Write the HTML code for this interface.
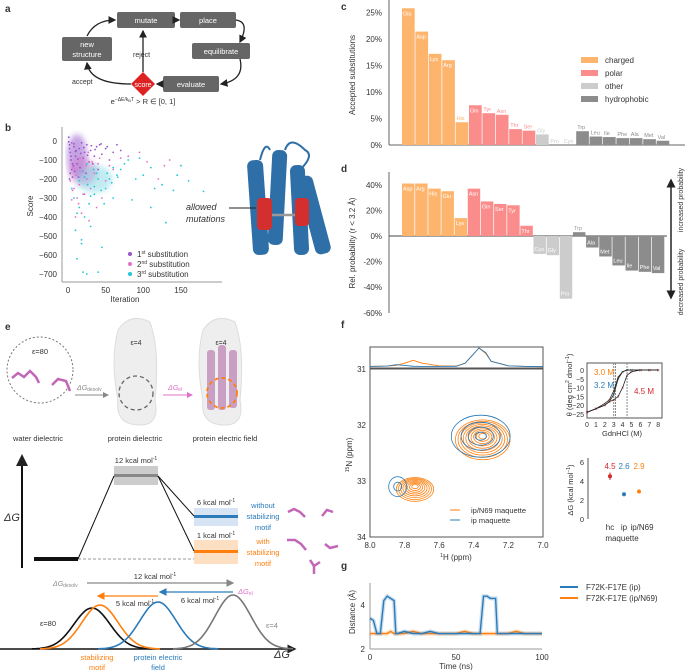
<!DOCTYPE html>
<html><head><meta charset="utf-8"><style>
body{margin:0;background:#fff}
svg{font-family:"Liberation Sans",sans-serif;display:block}
text{fill:#333}
</style></head><body>
<svg id="s" width="685" height="670" viewBox="0 0 685 670">
<defs>
<marker id="ah" markerWidth="6" markerHeight="6" refX="5" refY="3" orient="auto"><path d="M0,0L6,3L0,6z" fill="#222"/></marker>
<marker id="ahg" markerWidth="6" markerHeight="6" refX="5" refY="3" orient="auto"><path d="M0,0L6,3L0,6z" fill="#888"/></marker>
<marker id="ahm" markerWidth="6" markerHeight="6" refX="5" refY="3" orient="auto"><path d="M0,0L6,3L0,6z" fill="#e070c8"/></marker>
<marker id="ahb" markerWidth="6" markerHeight="6" refX="5" refY="3" orient="auto"><path d="M0,0L6,3L0,6z" fill="#2b7bba"/></marker>
<marker id="aho" markerWidth="6" markerHeight="6" refX="5" refY="3" orient="auto"><path d="M0,0L6,3L0,6z" fill="#ff7f0e"/></marker>
<filter id="bl"><feGaussianBlur stdDeviation="3"/></filter>
</defs>
<g font-weight="bold" font-size="10">
<text x="5" y="12">a</text><text x="5" y="131">b</text><text x="341" y="10">c</text><text x="341" y="172">d</text><text x="5" y="330">e</text><text x="341" y="328">f</text><text x="341" y="569">g</text></g>

<g id="pa" font-size="7.5">
<rect x="117" y="12" width="58" height="16" rx="2" fill="#666"/><text x="146" y="23" text-anchor="middle" style="fill:#fff">mutate</text>
<rect x="180" y="12" width="56" height="16" rx="2" fill="#666"/><text x="208" y="23" text-anchor="middle" style="fill:#fff">place</text>
<rect x="192" y="43" width="58" height="16" rx="2" fill="#666"/><text x="221" y="54" text-anchor="middle" style="fill:#fff">equilibrate</text>
<rect x="163" y="76" width="56" height="16" rx="2" fill="#666"/><text x="191" y="87" text-anchor="middle" style="fill:#fff">evaluate</text>
<rect x="62" y="37" width="50" height="24" rx="2" fill="#666"/><text x="87" y="47" text-anchor="middle" style="fill:#fff">new</text><text x="87" y="57" text-anchor="middle" style="fill:#fff">structure</text>
<path d="M143,72L155,84L143,96L131,84z" fill="#d22"/><text x="143" y="87" text-anchor="middle" font-size="7" style="fill:#fff">score</text>
<g fill="none" stroke="#222" stroke-width="1.3" marker-end="url(#ah)">
<path d="M175,20L179,20"/><path d="M236,20Q250,22 240,42"/><path d="M240,59Q245,80 221,84"/><path d="M163,84L157,84"/><path d="M143,72L143,31"/><path d="M131,84Q90,84 87,63"/><path d="M87,36Q95,20 115,20"/></g>
<text x="133" y="57" font-size="7">reject</text><text x="72" y="84" font-size="7">accept</text>
<text x="143" y="104" font-size="7.5" text-anchor="middle">e<tspan font-size="5" dy="-3">−ΔE/k</tspan><tspan font-size="4" dy="1">B</tspan><tspan font-size="5" dy="-1">T</tspan><tspan dy="3"> &gt; R ∈ [0, 1]</tspan></text>
</g>

<g id="pb"></g>
<g>
<g fill="#2e6fa8"><rect x="250" y="160" width="16" height="95" rx="6" transform="rotate(-4 258 207)"/><rect x="270" y="150" width="15" height="95" rx="6" transform="rotate(3 277 197)"/><rect x="292" y="165" width="15" height="90" rx="6" transform="rotate(-3 299 210)"/><rect x="306" y="175" width="16" height="80" rx="6" transform="rotate(-15 314 215)"/></g>
<g fill="#d42f2f"><rect x="257" y="198" width="15" height="32" rx="4"/><rect x="295" y="198" width="14" height="28" rx="4"/></g>
<path d="M260,160Q265,140 270,150M285,150Q290,135 305,150Q315,155 300,170" fill="none" stroke="#2e6fa8" stroke-width="2"/>
<line x1="272" y1="215" x2="295" y2="215" stroke="#999" stroke-width="2.5"/>
<text x="186" y="210" font-size="9" font-style="italic">allowed</text><text x="186" y="222" font-size="9" font-style="italic">mutations</text>
<line x1="229" y1="208" x2="256" y2="208" stroke="#222"/>
</g>

<g id="pc"></g>
<g id="pd"></g>

<g id="pe" font-size="7.5">
<circle cx="40" cy="370" r="33" fill="none" stroke="#777" stroke-dasharray="2,2"/>
<text x="40" y="354" text-anchor="middle">ε=80</text>
<path d="M12,378l6,-5l6,4l6,-6l6,6l3,6" fill="none" stroke="#c266b8" stroke-width="2.5"/>
<path d="M52,385l6,-6l8,2l4,10" fill="none" stroke="#c266b8" stroke-width="2.5"/>
<line x1="75" y1="395" x2="108" y2="395" stroke="#888" marker-end="url(#ahg)"/>
<text x="77" y="390" style="fill:#888" font-size="7"><tspan font-style="italic">ΔG</tspan><tspan font-size="5" dy="1">desolv</tspan></text>
<path d="M118,330Q130,312 150,322Q160,350 155,400Q160,425 140,425Q115,425 118,400Q110,360 118,330z" fill="#eee" stroke="#ddd"/>
<circle cx="136" cy="393" r="17" fill="none" stroke="#666" stroke-dasharray="4,3" stroke-width="1.3"/>
<text x="136" y="345" text-anchor="middle" font-size="7">ε=4</text>
<line x1="163" y1="395" x2="192" y2="395" stroke="#e070c8" marker-end="url(#ahm)"/>
<text x="168" y="390" style="fill:#e070c8" font-size="7"><tspan font-style="italic">ΔG</tspan><tspan font-size="5" dy="1">el</tspan></text>
<path d="M203,330Q215,312 235,322Q245,350 240,400Q245,425 225,425Q200,425 203,400Q195,360 203,330z" fill="#eee" stroke="#ddd"/>
<g fill="#c9a0c4"><rect x="207" y="350" width="8" height="60" rx="3"/><rect x="218" y="345" width="8" height="65" rx="3"/><rect x="229" y="350" width="8" height="58" rx="3"/></g>
<circle cx="222" cy="393" r="15" fill="none" stroke="#ff7f0e" stroke-dasharray="4,3" stroke-width="1.8"/>
<text x="221" y="345" text-anchor="middle" font-size="7">ε=4</text>
<text x="38" y="441" text-anchor="middle">water dielectric</text><text x="135" y="441" text-anchor="middle">protein dielectric</text><text x="225" y="441" text-anchor="middle">protein electric field</text>
<line x1="22" y1="568" x2="22" y2="456" stroke="#111" stroke-width="2" marker-end="url(#ah)"/>
<text x="4" y="521" font-size="11" font-style="italic">ΔG</text>
<rect x="34" y="557" width="44" height="4" fill="#111"/>
<line x1="78" y1="559" x2="238" y2="559" stroke="#999" stroke-dasharray="3,2"/>
<rect x="114" y="466" width="44" height="19" fill="#ccc"/><rect x="114" y="474" width="44" height="3" fill="#888"/>
<text x="136" y="463" text-anchor="middle">12 kcal mol<tspan font-size="5" dy="-3">-1</tspan></text>
<rect x="194" y="508" width="44" height="18" fill="#d6e4f3"/><rect x="194" y="515" width="44" height="3" fill="#2b7bba"/>
<text x="216" y="505" text-anchor="middle">6 kcal mol<tspan font-size="5" dy="-3">-1</tspan></text>
<rect x="194" y="540" width="44" height="24" fill="#fde0c4"/><rect x="194" y="550" width="44" height="3" fill="#ff7f0e"/>
<text x="216" y="538" text-anchor="middle">1 kcal mol<tspan font-size="5" dy="-3">-1</tspan></text>
<g stroke="#111" fill="none"><path d="M78,559L114,476"/><path d="M158,476L194,516"/><path d="M158,476L194,551"/></g>
<g text-anchor="middle"><text x="263" y="508" style="fill:#2b7bba">without</text><text x="263" y="519" style="fill:#2b7bba">stabilizing</text><text x="263" y="530" style="fill:#2b7bba">motif</text>
<text x="263" y="544" style="fill:#ff7f0e">with</text><text x="263" y="555" style="fill:#ff7f0e">stabilizing</text><text x="263" y="566" style="fill:#ff7f0e">motif</text></g>
<g fill="none" stroke="#c266b8" stroke-width="2.5"><path d="M288,512l6,-3l6,3l5,5"/><path d="M322,516l5,-6l6,2"/><path d="M287,540l8,0l6,4l5,6"/><path d="M325,544l5,4l8,-2"/><path d="M310,560l4,6l6,-4M314,566l0,8"/></g>
<line x1="0" y1="649" x2="295" y2="649" stroke="#111" stroke-width="1.5" marker-end="url(#ah)"/>
<text x="274" y="658" font-size="11" font-style="italic">ΔG</text>
<g id="gauss"></g>
<line x1="87" y1="583" x2="233" y2="583" stroke="#888" stroke-width="1.3" marker-end="url(#ahg)"/>
<text x="155" y="579" text-anchor="middle">12 kcal mol<tspan font-size="5" dy="-3">-1</tspan></text>
<text x="53" y="586" style="fill:#888" font-size="7"><tspan font-style="italic">ΔG</tspan><tspan font-size="5" dy="1">desolv</tspan></text>
<line x1="233" y1="592" x2="160" y2="592" stroke="#2b7bba" stroke-width="1.3" marker-end="url(#ahb)"/>
<text x="238" y="594" style="fill:#e070c8" font-size="7.5"><tspan font-style="italic">ΔG</tspan><tspan font-size="5" dy="1">el</tspan></text>
<text x="200" y="603" text-anchor="middle">6 kcal mol<tspan font-size="5" dy="-3">-1</tspan></text>
<line x1="158" y1="596" x2="98" y2="596" stroke="#ff7f0e" stroke-width="1.3" marker-end="url(#aho)"/>
<text x="135" y="606" text-anchor="middle">5 kcal mol<tspan font-size="5" dy="-3">-1</tspan></text>
<text x="48" y="626" text-anchor="middle">ε=80</text><text x="266" y="628" style="fill:#888">ε=4</text>
<text x="97" y="660" text-anchor="middle" style="fill:#ff7f0e">stabilizing</text><text x="97" y="670" text-anchor="middle" style="fill:#ff7f0e">motif</text>
<text x="158" y="660" text-anchor="middle" style="fill:#2b7bba">protein electric</text><text x="158" y="670" text-anchor="middle" style="fill:#2b7bba">field</text>
</g>

<g id="pf"></g>
<g id="pcd"></g>
<g id="pdg"></g>
<g id="pg"></g>
</svg>
<script>
const NS="http://www.w3.org/2000/svg";
function mk(p,t,a,txt){const e=document.createElementNS(NS,t);for(const k in a)e.setAttribute(k,a[k]);if(txt!==undefined)e.textContent=txt;p.appendChild(e);return e;}

const b1x=[1,2,3,4,5,6,8,10,12,15,18,20,22,25,28,30,35,38,40,45,50,55,60,2,3,5,7,9,11,14,16,24,33,42,1,2,4,6,8,10,13,17,21,26,31,36,44,52,65,70];
const b1y=[20,-20,-60,-100,-150,-190,-30,-80,-120,-40,-10,-90,-60,-20,-110,-50,-80,-30,-150,-70,-40,-100,-60,-200,-170,-10,-130,-160,-50,-190,-140,-170,-120,-20,-5,-40,-80,-120,-15,-55,-95,-65,-35,-75,-25,-45,-15,-30,-20,-50];
const b2x=[3,6,9,12,15,20,25,30,35,40,45,50,60,70,80,95,105,120,128,135,10,18,28,38,8,14,22,5,4,7,11,16,19,24,27,32,42,55];
const b2y=[-210,-260,-150,-300,-230,-280,-200,-250,-170,-120,-300,-210,-150,-90,-80,-60,-110,-200,-130,-100,-400,-380,-420,-350,-250,-330,-280,-310,-100,-140,-180,-90,-160,-130,-60,-110,-90,-130];
const b3x=[5,8,10,12,15,18,20,22,25,28,30,35,40,45,50,55,60,65,70,75,80,90,100,110,115,125,130,140,145,150,160,180,15,20,25,35,40,48,12,18,30,38,60,85,95,110,22,26,34,44,52,58,66];
const b3y=[-250,-300,-470,-620,-350,-540,-690,-400,-700,-330,-450,-280,-690,-560,-250,-200,-300,-180,-150,-120,-100,-200,-180,-140,-250,-230,-430,-260,-180,-130,-210,-265,-210,-160,-120,-240,-200,-330,-380,-520,-290,-170,-140,-310,-90,-350,-190,-230,-150,-260,-170,-220,-190];
const bxT=[0,50,100,150], byT=[0,-100,-200,-300,-400,-500,-600,-700];
const bX=v=>68+v*0.753, bY=v=>141-v*0.19;
(function(){const g=document.getElementById('pb');
mk(g,'ellipse',{cx:bX(12),cy:bY(-80),rx:10,ry:22,fill:'#a068d0',opacity:.6,filter:'url(#bl)'});
mk(g,'ellipse',{cx:bX(20),cy:bY(-160),rx:14,ry:14,fill:'#d070c8',opacity:.4,filter:'url(#bl)'});
mk(g,'ellipse',{cx:bX(35),cy:bY(-200),rx:18,ry:14,fill:'#50c8d8',opacity:.35,filter:'url(#bl)'});
mk(g,'line',{x1:62,y1:127,x2:62,y2:282,stroke:'#999'});mk(g,'line',{x1:62,y1:282,x2:222,y2:282,stroke:'#999'});
byT.forEach(v=>{const t=mk(g,'text',{x:57,y:bY(v)+3,'text-anchor':'end','font-size':8},v<0?'−'+(-v):v);});
bxT.forEach(v=>{mk(g,'text',{x:bX(v),y:293,'text-anchor':'middle','font-size':8},v);});
mk(g,'text',{x:125,y:302,'text-anchor':'middle','font-size':8},'Iteration');
mk(g,'text',{x:0,y:0,'font-size':8,transform:'translate(33,206) rotate(-90)','text-anchor':'middle'},'Score');
[[b3x,b3y,'#1fc8d8'],[b2x,b2y,'#e070c8'],[b1x,b1y,'#9a55c8']].forEach(([xs,ys,c])=>xs.forEach((x,i)=>{const d=mk(g,'circle',{cx:bX(x),cy:bY(ys[i]),r:.9,fill:c});}));
const L=[['1','st','#9a55c8'],['2','nd','#e070c8'],['3','rd','#1fc8d8']];
L.forEach((l,i)=>{const y=254+i*10;mk(g,'circle',{cx:130,cy:y,r:2,fill:l[2]});const t=mk(g,'text',{x:137,y:y+3,'font-size':8});t.innerHTML=l[0]+'<tspan font-size="5" dy="-3">'+l[1]+'</tspan><tspan dy="3"> substitution</tspan>';});
})();

const COL={c:'#fdb56e',p:'#fb8c8c',o:'#cccccc',h:'#8c8c8c'};
const cCats=['Glu','Asp','Lys','Arg','His','Gln','Tyr','Asn','Thr','Ser','Gly','Pro','Cys','Trp','Leu','Ile','Phe','Ala','Met','Val'];
const cGroups=['c','c','c','c','c','p','p','p','p','p','o','o','o','h','h','h','h','h','h','h'];
const cVals=[25.8,21.4,17.2,16.0,4.3,7.5,6.0,5.7,3.0,2.7,2.0,0,0,2.6,1.6,1.5,1.3,1.3,1.1,0.8];
const cTicks=[0,5,10,15,20,25];
const dCats=['Asp','Arg','His','Glu','Lys','Asn','Gln','Ser','Tyr','Thr','Cys','Gly','Pro','Trp','Ala','Met','Leu','Ile','Phe','Val'];
const dGroups=['c','c','c','c','c','p','p','p','p','p','o','o','o','h','h','h','h','h','h','h'];
const dVals=[41,41,37,35,14,37,27,25,24,8,-14,-15,-49,3,-9,-16,-23,-27,-28,-29];
const dTicks=[-60,-40,-20,0,20,40];
(function(){const g=document.getElementById('pc');const Y=v=>145-v*5.3,bw=13.4,x0=402;
mk(g,'line',{x1:389,y1:0,x2:389,y2:145,stroke:'#666'});mk(g,'line',{x1:389,y1:145,x2:685,y2:145,stroke:'#666'});
cTicks.forEach(v=>mk(g,'text',{x:382,y:Y(v)+3,'text-anchor':'end','font-size':8},v+'%'));
mk(g,'text',{x:0,y:0,'font-size':8,transform:'translate(355,75) rotate(-90)','text-anchor':'middle'},'Accepted substitutions');
cVals.forEach((v,i)=>{const x=x0+i*bw;const r=mk(g,'rect',{x:x,y:Y(v),width:bw-0.7,height:145-Y(v),fill:COL[cGroups[i]]});
const inside=v>7;mk(g,'text',{x:x+1,y:inside?Y(v)+7:Y(v)-2,'font-size':5.5,style:'fill:'+(inside?'#fff':COL[cGroups[i]])},cCats[i]);});
[['charged','c'],['polar','p'],['other','o'],['hydrophobic','h']].forEach((l,i)=>{const y=57+i*13;mk(g,'rect',{x:581,y:y,width:17,height:6,fill:COL[l[1]]});const t=mk(g,'text',{x:605,y:y+6,'font-size':8},l[0]);});
})();
(function(){const g=document.getElementById('pd');const Y=v=>236-v*1.28,bw=13.15,x0=402;
mk(g,'line',{x1:389,y1:172,x2:389,y2:313,stroke:'#666'});mk(g,'line',{x1:389,y1:236,x2:667,y2:236,stroke:'#444'});
dTicks.forEach(v=>mk(g,'text',{x:382,y:Y(v)+3,'text-anchor':'end','font-size':8},v+'%'));
mk(g,'text',{x:0,y:0,'font-size':8,transform:'translate(355,243) rotate(-90)','text-anchor':'middle'},'Rel. probability (r < 3.2 Å)');
dVals.forEach((v,i)=>{const x=x0+i*bw;const y=Math.min(Y(v),236),h=Math.abs(Y(v)-236);const r=mk(g,'rect',{x:x,y:y,width:bw-0.7,height:h,fill:COL[dGroups[i]]});
const big=Math.abs(v)>6;mk(g,'text',{x:x+1,y:v>0?(big?y+7:y-2):y+h-3,'font-size':5.5,style:'fill:'+(big?'#fff':'#999')},dCats[i]);});
mk(g,'line',{x1:671,y1:236,x2:671,y2:180,stroke:'#222','stroke-width':1.5,'marker-end':'url(#ah)'});
mk(g,'line',{x1:671,y1:236,x2:671,y2:298,stroke:'#222','stroke-width':1.5,'marker-end':'url(#ah)'});
mk(g,'text',{x:0,y:0,'font-size':7,transform:'translate(683,200) rotate(-90)','text-anchor':'middle'},'increased probability');
mk(g,'text',{x:0,y:0,'font-size':7,transform:'translate(683,282) rotate(-90)','text-anchor':'middle'},'decreased probability');
})();

const gCenters=[92,100,158,233], gHeights=[41,44,47,54], gColors=['#111','#ff7f0e','#2b7bba','#777'];
(function(){const g=document.getElementById('gauss');gCenters.forEach((c,i)=>{let d='';for(let x=c-60;x<=c+60;x+=2){const y=649-gHeights[i]*Math.exp(-((x-c)**2)/(2*18*18));d+=(d?'L':'M')+x+','+y.toFixed(1);}
const p=mk(g,'path',{d:d,fill:'none',stroke:gColors[i],'stroke-width':1.6});});})();

const nmrPeaksH=[7.36,7.74], nmrPeaksN=[32.2,33.1], nmrLevels=[3,5,7,9,11,13,15,17,19,21];
const bluePeaksH=[7.36,7.84], bluePeaksN=[32.2,33.1], blueLevels=[4,9,14,21];
const specH=[8.0,7.9,7.85,7.8,7.75,7.7,7.6,7.5,7.45,7.4,7.37,7.33,7.3,7.2,7.1,7.0];
const specOr=[0.03,0.05,0.08,0.2,0.35,0.2,0.06,0.05,0.2,0.7,1.0,0.7,0.3,0.06,0.03,0.02];
const specBl=[0.03,0.05,0.12,0.08,0.04,0.03,0.03,0.04,0.2,0.7,1.0,0.75,0.3,0.06,0.03,0.02];
(function(){const g=document.getElementById('pf');const X=h=>370+(8-h)*173,Y=n=>369+(n-31)*56;
mk(g,'rect',{x:370,y:347,width:173,height:21,fill:'none',stroke:'#555'});mk(g,'rect',{x:370,y:369,width:173,height:168,fill:'none',stroke:'#555'});
[[specOr,'#ff7f0e'],[specBl,'#2b7bba']].forEach(([s,c])=>{let d='';specH.forEach((h,i)=>d+=(d?'L':'M')+X(h)+','+(367-s[i]*19));mk(g,'path',{d:d,fill:'none',stroke:c,'stroke-width':.9,'stroke-linejoin':'round'});});
nmrPeaksH.forEach((h,k)=>nmrLevels.forEach((r,j)=>{if(k==1&&j>7)return;mk(g,'ellipse',{cx:X(h)+(k?0:2),cy:Y(nmrPeaksN[k])+j*0.4,rx:r*(k?1.1:1.3),ry:r*(k?0.7:0.95),fill:'none',stroke:'#ff7f0e','stroke-width':.8});}));
bluePeaksH.forEach((h,k)=>blueLevels.forEach((r,j)=>{if(k==1&&j>1)return;mk(g,'ellipse',{cx:X(h),cy:Y(bluePeaksN[k]),rx:r*(k?1:1.4),ry:r*(k?1.1:1.0),fill:'none',stroke:'#2b7bba','stroke-width':.8});}));
[31,32,33,34].forEach(n=>mk(g,'text',{x:366,y:Y(n)+3,'text-anchor':'end','font-size':8},n));
[8.0,7.8,7.6,7.4,7.2,7.0].forEach(h=>mk(g,'text',{x:X(h),y:548,'text-anchor':'middle','font-size':8},h.toFixed(1)));
const t=mk(g,'text',{x:0,y:0,'font-size':8,transform:'translate(352,455) rotate(-90)','text-anchor':'middle'});t.innerHTML='<tspan font-size="5" dy="-3">15</tspan><tspan dy="3">N (ppm)</tspan>';
const t2=mk(g,'text',{x:456,y:560,'font-size':8,'text-anchor':'middle'});t2.innerHTML='<tspan font-size="5" dy="-3">1</tspan><tspan dy="3">H (ppm)</tspan>';
mk(g,'line',{x1:450,y1:510,x2:460,y2:510,stroke:'#ff7f0e'});mk(g,'text',{x:471,y:513,'font-size':7.5},'ip/N69 maquette');
mk(g,'line',{x1:450,y1:520,x2:460,y2:520,stroke:'#2b7bba'});mk(g,'text',{x:471,y:523,'font-size':7.5},'ip maquette');
})();

const cdX=[0,1,2,2.5,3,3.5,4,4.5,5,6,7,8];
const cdIp=[-24,-22,-20,-18,-14,-5,-1,0,0,0,0,0];
const cdN69=[-24,-22,-19,-17,-12,-4,-1,0,0,0,0,0];
const cdHc=[-24,-22,-20,-18,-17,-15,-10,-3,-1,0,0,0];
const cdMid=[3.0,3.2,4.5];
(function(){const g=document.getElementById('pcd');const X=v=>587+v*8.9,Y=v=>370-v*1.76;
mk(g,'rect',{x:587,y:363,width:75,height:55,fill:'none',stroke:'#555'});
[0,-5,-10,-15,-20,-25].forEach(v=>mk(g,'text',{x:584,y:Y(v)+3,'text-anchor':'end','font-size':7},v==0?'0':'−'+(-v)));
[0,1,2,3,4,5,6,7,8].forEach(v=>mk(g,'text',{x:X(v),y:427,'text-anchor':'middle','font-size':7},v));
mk(g,'text',{x:622,y:436,'text-anchor':'middle','font-size':7.5},'GdnHCl (M)');
const t=mk(g,'text',{x:0,y:0,'font-size':7.5,transform:'translate(572,385) rotate(-90)','text-anchor':'middle'});t.innerHTML='θ (deg cm<tspan font-size="5" dy="-3">2</tspan><tspan dy="3"> dmol</tspan><tspan font-size="5" dy="-3">−1</tspan><tspan dy="3">)</tspan>';
cdMid.forEach(m=>mk(g,'line',{x1:X(m),y1:363,x2:X(m),y2:418,stroke:'#888','stroke-dasharray':'2,1'}));
[[cdN69,'#ff7f0e'],[cdIp,'#2b7bba'],[cdHc,'#d62728']].forEach(([s,c])=>{let d='';s.forEach((v,i)=>{d+=(d?'L':'M')+X(cdX[i])+','+Y(v);mk(g,'text',{x:X(cdX[i]),y:Y(v)+2,'font-size':5,'text-anchor':'middle',style:'fill:'+c},'×');});mk(g,'path',{d:d,fill:'none',stroke:'#222','stroke-width':.8});});
mk(g,'text',{x:594,y:375,'font-size':8,style:'fill:#ff7f0e'},'3.0 M');mk(g,'text',{x:594,y:388,'font-size':8,style:'fill:#2b7bba'},'3.2 M');mk(g,'text',{x:634,y:394,'font-size':8,style:'fill:#d62728'},'4.5 M');
})();

const dgCats=['hc','ip','ip/N69'], dgVals=[4.5,2.6,2.9], dgErr=[0.4,0.2,0.2], dgCol=['#d62728','#2b7bba','#ff7f0e'];
(function(){const g=document.getElementById('pdg');const Y=v=>519-v*9.5,xs=[610,624,639];
mk(g,'line',{x1:588,y1:458,x2:588,y2:519,stroke:'#555'});
[0,2,4,6].forEach(v=>mk(g,'text',{x:584,y:Y(v)+3,'text-anchor':'end','font-size':7.5},v));
const t=mk(g,'text',{x:0,y:0,'font-size':7.5,transform:'translate(573,490) rotate(-90)','text-anchor':'middle'});t.innerHTML='ΔG (kcal mol<tspan font-size="5" dy="-3">−1</tspan><tspan dy="3">)</tspan>';
dgVals.forEach((v,i)=>{mk(g,'line',{x1:xs[i],y1:Y(v+dgErr[i]),x2:xs[i],y2:Y(v-dgErr[i]),stroke:dgCol[i]});const c=mk(g,'circle',{cx:xs[i],cy:Y(v),r:2,fill:dgCol[i]});
mk(g,'text',{x:xs[i],y:469,'text-anchor':'middle','font-size':8,style:'fill:'+dgCol[i]},v.toFixed(1));mk(g,'text',{x:xs[i]+(i==2?3:0),y:530,'text-anchor':'middle','font-size':8},dgCats[i]);});
mk(g,'text',{x:622,y:541,'text-anchor':'middle','font-size':8},'maquette');
})();

const gT=[0,2,4,6,8,10,12,14,15,16,20,25,30,35,40,45,50,55,60,64,66,68,70,72,73,74,80,85,90,95,100];
const gIp=[3.4,3.3,2.7,2.7,4.2,4.4,4.3,4.2,2.7,2.7,2.8,2.7,2.7,2.8,2.7,2.7,2.7,2.7,2.7,2.7,4.4,4.4,4.3,4.3,4.3,2.7,2.7,2.7,2.7,2.7,2.7];
const gN69=[2.7,2.7,2.7,2.7,2.7,2.7,2.8,2.7,2.7,2.7,2.7,2.8,2.7,2.7,2.7,2.7,2.7,2.8,2.7,2.7,2.7,2.7,2.7,2.7,2.7,2.7,2.7,2.8,2.7,2.7,2.7];
(function(){const g=document.getElementById('pg');const X=v=>370+v*1.72,Y=v=>649-(v-2)*22;
mk(g,'line',{x1:370,y1:583,x2:370,y2:649,stroke:'#999'});mk(g,'line',{x1:370,y1:649,x2:542,y2:649,stroke:'#999'});
[2,4].forEach(v=>mk(g,'text',{x:365,y:Y(v)+3,'text-anchor':'end','font-size':8},v));
[0,50,100].forEach(v=>mk(g,'text',{x:X(v),y:660,'text-anchor':'middle','font-size':8},v));
mk(g,'text',{x:456,y:669,'text-anchor':'middle','font-size':8},'Time (ns)');
mk(g,'text',{x:0,y:0,'font-size':8,transform:'translate(355,612) rotate(-90)','text-anchor':'middle'},'Distance (Å)');
[[gN69,'#ff7f0e'],[gIp,'#2b7bba']].forEach(([s,c])=>{let d='';s.forEach((v,i)=>d+=(d?'L':'M')+X(gT[i]).toFixed(1)+','+Y(v).toFixed(1));mk(g,'path',{d:d,fill:'none',stroke:c,'stroke-width':4,opacity:.25});const p=mk(g,'path',{d:d,fill:'none',stroke:c,'stroke-width':1.4});});
mk(g,'line',{x1:560,y1:587,x2:578,y2:587,stroke:'#2b7bba','stroke-width':2});mk(g,'text',{x:586,y:590,'font-size':8},'F72K-F17E (ip)');
mk(g,'line',{x1:560,y1:598,x2:578,y2:598,stroke:'#ff7f0e','stroke-width':2});mk(g,'text',{x:586,y:601,'font-size':8},'F72K-F17E (ip/N69)');
})();
</script>
</body></html>
